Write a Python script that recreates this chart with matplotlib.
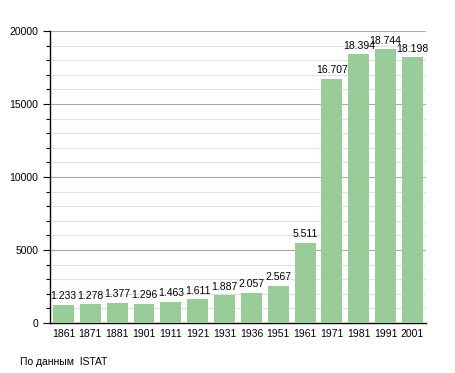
import numpy as np
import matplotlib.pyplot as plt
from matplotlib.ticker import MultipleLocator

plt.rcParams['font.family'] = ['Liberation Sans', 'DejaVu Sans']

years = ["1861", "1871", "1881", "1901", "1911", "1921", "1931",
         "1936", "1951", "1961", "1971", "1981", "1991", "2001"]
population = [1233, 1278, 1377, 1296, 1463, 1611, 1887,
              2057, 2567, 5511, 16707, 18394, 18744, 18198]

fig = plt.figure(figsize=(4.55, 3.73), dpi=100)
ax = fig.add_axes([0.110, 0.134, 0.826, 0.783])

x = np.arange(len(years))
ax.bar(x, population, width=0.78, color="#99cc99", zorder=3)

for xi, v in zip(x, population):
    label = f"{v:,}".replace(",", ".")
    ax.text(xi, v + 250, label, ha="center", va="bottom", fontsize=7.5, zorder=4)

ax.set_xlim(-0.5, len(years) - 0.5)
ax.set_ylim(0, 20000)
ax.set_xticks(x)
ax.set_xticklabels(years, fontsize=7.5)
ax.tick_params(axis="x", length=0, pad=4)

ax.yaxis.set_major_locator(MultipleLocator(5000))
ax.yaxis.set_minor_locator(MultipleLocator(1000))
ax.tick_params(axis="y", which="major", length=5, width=0.8, labelsize=7.5)
ax.tick_params(axis="y", which="minor", length=3, width=0.8)
ax.grid(axis="y", which="major", color="#aaaaaa", linewidth=0.8, zorder=0)
ax.grid(axis="y", which="minor", color="#e0e0e0", linewidth=0.8, zorder=0)

for side in ["top", "right"]:
    ax.spines[side].set_visible(False)
ax.spines["left"].set_linewidth(1)
ax.spines["bottom"].set_linewidth(1)

fig.text(20 / 455, 1 - 362 / 373, "По данным  ISTAT", fontsize=7.5, va="center")

fig.savefig("out.png", dpi=100)
